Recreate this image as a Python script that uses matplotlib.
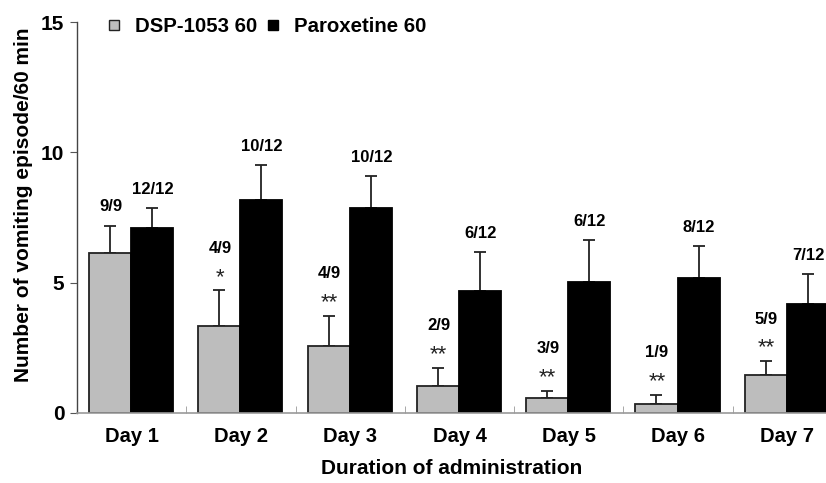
import numpy as np
import matplotlib
matplotlib.use("Agg")
import matplotlib.pyplot as plt
from matplotlib.lines import Line2D

plt.rcParams['font.family'] = ['Liberation Sans', 'DejaVu Sans']

days = ["Day 1", "Day 2", "Day 3", "Day 4", "Day 5", "Day 6", "Day 7"]
dsp_mean = [6.12, 3.35, 2.57, 1.02, 0.56, 0.35, 1.46]
dsp_err = [1.04, 1.35, 1.15, 0.70, 0.30, 0.34, 0.52]
par_mean = [7.10, 8.19, 7.88, 4.69, 5.02, 5.19, 4.20]
par_err = [0.75, 1.33, 1.20, 1.48, 1.63, 1.20, 1.13]
dsp_frac = ["9/9", "4/9", "4/9", "2/9", "3/9", "1/9", "5/9"]
par_frac = ["12/12", "10/12", "10/12", "6/12", "6/12", "8/12", "7/12"]
dsp_stars = ["", "*", "**", "**", "**", "**", "**"]

W, H = 826, 483
fig = plt.figure(figsize=(W / 100, H / 100), dpi=100)
ax = fig.add_axes([77 / W, 70 / H, 765 / W, 391 / H])

x = np.arange(len(days)) + 0.5
w = 0.385
ax.bar(x - w / 2 - 0.005, dsp_mean, w, color='#bdbdbd', edgecolor='#222222', linewidth=1.3, zorder=2)
ax.bar(x + w / 2 - 0.005, par_mean, w, color='black', edgecolor='black', linewidth=1.3, zorder=2)
ax.errorbar(x - w / 2 - 0.005, dsp_mean, yerr=[np.zeros(7), dsp_err], fmt='none',
            ecolor='#222222', elinewidth=1.3, capsize=4, capthick=1.3, zorder=1)
ax.errorbar(x + w / 2 - 0.005, par_mean, yerr=[np.zeros(7), par_err], fmt='none',
            ecolor='#222222', elinewidth=1.3, capsize=4, capthick=1.3, zorder=1)

# annotations above the error bars
for i in range(len(days)):
    top = dsp_mean[i] + dsp_err[i]
    if dsp_stars[i]:
        ax.annotate(dsp_stars[i], (x[i] - w / 2, top), xytext=(0, 2), textcoords='offset points',
                    ha='center', va='bottom', fontsize=16, color='#222222')
        ax.annotate(dsp_frac[i], (x[i] - w / 2, top), xytext=(0, 25), textcoords='offset points',
                    ha='center', va='bottom', fontsize=12, fontweight='bold')
    else:
        ax.annotate(dsp_frac[i], (x[i] - w / 2, top), xytext=(0, 9), textcoords='offset points',
                    ha='center', va='bottom', fontsize=12, fontweight='bold')
    ptop = par_mean[i] + par_err[i]
    ax.annotate(par_frac[i], (x[i] + w / 2, ptop), xytext=(0, 8), textcoords='offset points',
                ha='center', va='bottom', fontsize=12, fontweight='bold')

ax.set_xlim(0, 7)
ax.set_ylim(0, 15)
ax.set_yticks([0, 5, 10, 15])
ax.set_xticks(x)
ax.set_xticklabels(days)
ax.set_xticks(np.arange(1, 7), minor=True)
ax.tick_params(axis='x', which='major', length=0, pad=10, labelsize=14.5)
ax.tick_params(axis='x', which='minor', direction='in', length=5, color='#999999')
ax.tick_params(axis='y', length=5, color='#555555', pad=4, labelsize=15)
for lab in ax.get_xticklabels() + ax.get_yticklabels():
    lab.set_fontweight('bold')

ax.spines['top'].set_visible(False)
ax.spines['right'].set_visible(False)
ax.spines['left'].set_color('#444444')
ax.spines['bottom'].set_color('#999999')
ax.spines['left'].set_linewidth(1.0)
ax.spines['bottom'].set_linewidth(1.2)

ax.set_xlabel("Duration of administration", fontsize=15, fontweight='bold')
ax.xaxis.set_label_coords(0.49, -0.118)
ax.set_ylabel("Number of vomiting episode/60 min", fontsize=15, fontweight='bold')
ax.yaxis.set_label_coords(-0.058, 0.532)

handles = [Line2D([], [], marker='s', linestyle='none', markersize=6.5,
                  markerfacecolor='#bdbdbd', markeredgecolor='#222222'),
           Line2D([], [], marker='s', linestyle='none', markersize=6.5,
                  markerfacecolor='black', markeredgecolor='black')]
fig.legend(handles, ["DSP-1053 60", "Paroxetine 60"], loc='center left',
           bbox_to_anchor=(106 / W, 1 - 27 / H), ncol=2, frameon=False,
           prop={'size': 14.7, 'weight': 'bold'}, handlelength=0.8,
           handletextpad=0.6, columnspacing=0.4, borderaxespad=0, borderpad=0)

fig.savefig("out.png", dpi=100)
